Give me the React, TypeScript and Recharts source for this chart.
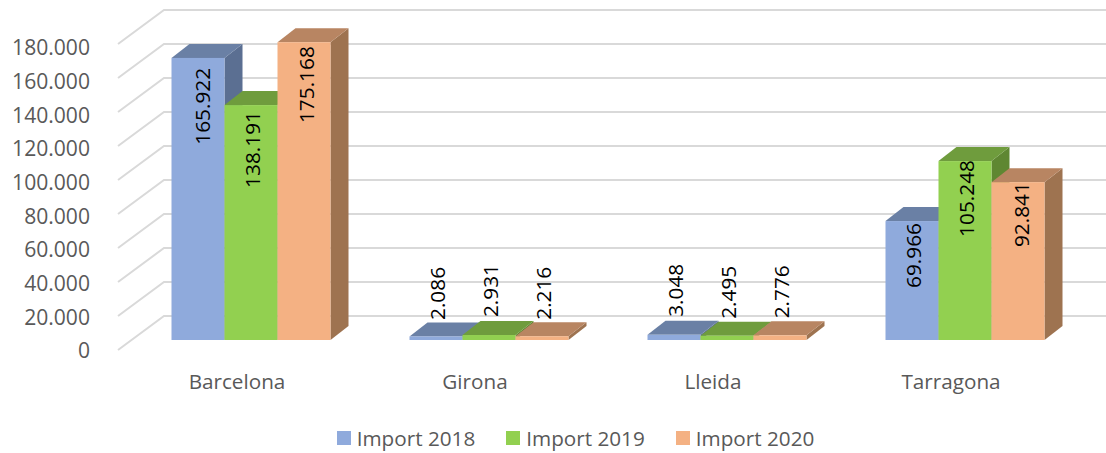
import React from 'react'
import { BarChart, Bar, XAxis, YAxis, CartesianGrid, Legend, LabelList } from 'recharts'

const provinces = ['Barcelona', 'Girona', 'Lleida', 'Tarragona']
const import2018 = [165922, 2086, 3048, 69966]
const import2019 = [138191, 2931, 2495, 105248]
const import2020 = [175168, 2216, 2776, 92841]
const yTicks = [0, 20000, 40000, 60000, 80000, 100000, 120000, 140000, 160000, 180000]

const rows = provinces.map((name, i) => ({
    name,
    import2018: import2018[i],
    import2019: import2019[i],
    import2020: import2020[i],
}))

const series = [
    { key: 'import2018', label: 'Import 2018', front: '#8faadc', top: '#6a80a5', side: '#5b6f92' },
    { key: 'import2019', label: 'Import 2019', front: '#92d050', top: '#6f9c3d', side: '#5f8732' },
    { key: 'import2020', label: 'Import 2020', front: '#f4b183', top: '#b88562', side: '#9e7350' },
]

// the excel labels were dragged by hand, [dx, dy from top of bar] per category
const labelNudge: Record<string, number[][]> = {
    import2018: [[3.5, 10], [0.5, -69.5], [1, -71], [0.5, 2]],
    import2019: [[1, 6], [1, -71], [1, -70], [1, -1]],
    import2020: [[1.5, 4], [1, -69.5], [0.5, -70], [2.5, 0]],
}

const font = '"Open Sans", sans-serif'
const wall = { dx: 46, dy: -34 }
const barDepth = { dx: 18, dy: -14 }
const barShift = { dx: 13.5, dy: -10 }
const plotBottom = 350

const formatThousands = (v: number) => String(v).replace(/\B(?=(\d{3})+$)/g, '.')

function Box3D(props: any) {
    const { x, y, width, height, front, top, side } = props
    const l = x + barShift.dx
    const r = l + width
    const t = y + barShift.dy
    const b = t + height
    const { dx, dy } = barDepth
    return (
        <g>
            <polygon points={`${r},${t} ${r + dx},${t + dy} ${r + dx},${b + dy} ${r},${b}`} fill={side} />
            <polygon points={`${l},${t} ${l + dx},${t + dy} ${r + dx},${t + dy} ${r},${t}`} fill={top} />
            <rect x={l} y={t} width={width} height={height} fill={front} />
        </g>
    )
}

function WallLine(props: any) {
    const { x1, y1, x2 } = props
    return (
        <polyline
            key={props.key ?? y1}
            points={`${x1},${y1} ${x1 + wall.dx},${y1 + wall.dy} ${x2 + wall.dx + 40},${y1 + wall.dy}`}
            fill="none"
            stroke="#d9d9d9"
            strokeWidth={2}
        />
    )
}

function RotatedLabel(props: any) {
    const { x, y, width, value, index, nudge } = props
    const cx = x + width / 2 + barShift.dx + nudge[index][0]
    const topY = y + barShift.dy + nudge[index][1]
    return (
        <text
            transform={`translate(${cx},${topY}) rotate(-90)`}
            textAnchor="end"
            dominantBaseline="central"
            fontFamily={font}
            fontSize={20.8}
            fill="#000"
        >
            {formatThousands(value)}
        </text>
    )
}

// excel packs the value labels a little tighter than the gridlines
function ValueTick(props: any) {
    const { x, y, payload } = props
    const drift = 1 + ((plotBottom - y) / 306) * 3
    return (
        <text x={x} y={y + drift} dy="0.355em" textAnchor="end" fontFamily={font} fontSize={21.1} fill="#595959">
            {formatThousands(payload.value)}
        </text>
    )
}

function LegendRow() {
    return (
        <div style={{ display: 'flex', justifyContent: 'center', gap: 31, paddingLeft: 81, fontFamily: font, fontSize: 20.7, color: '#595959' }}>
            {series.map(s => (
                <div key={s.key} style={{ display: 'flex', alignItems: 'center', gap: 6 }}>
                    <span style={{ width: 14, height: 14, background: s.front, display: 'inline-block' }} />
                    {s.label}
                </div>
            ))}
        </div>
    )
}

export default function App() {
    return (
        <div style={{ position: 'absolute', left: 0, top: 0, width: 1106, height: 453, background: '#fff', overflow: 'hidden' }}>
            <BarChart
                width={1106}
                height={453}
                data={rows}
                barSize={53}
                barGap={0}
                margin={{ top: 44, right: 36, left: 0, bottom: 23 }}
            >
                <CartesianGrid vertical={false} horizontal={(p: any) => <WallLine {...p} />} />
                <XAxis
                    dataKey="name"
                    axisLine={false}
                    tickLine={false}
                    height={40}
                    tickMargin={18}
                    tick={{ fontFamily: font, fontSize: 20.7, fill: '#595959' }}
                />
                <YAxis
                    domain={[0, 180000]}
                    ticks={yTicks}
                    width={118}
                    axisLine={false}
                    tickLine={false}
                    tickMargin={22}
                    tick={<ValueTick />}
                />
                <Legend
                    verticalAlign="bottom"
                    height={40}
                    content={() => <LegendRow />}
                    wrapperStyle={{ bottom: -11 }}
                />
                {series.map(s => (
                    <Bar
                        key={s.key}
                        dataKey={s.key}
                        name={s.label}
                        fill={s.front}
                        isAnimationActive={false}
                        shape={(p: any) => <Box3D {...p} front={s.front} top={s.top} side={s.side} />}
                    >
                        <LabelList
                            dataKey={s.key}
                            content={(p: any) => <RotatedLabel {...p} nudge={labelNudge[s.key]} />}
                        />
                    </Bar>
                ))}
            </BarChart>
        </div>
    )
}
